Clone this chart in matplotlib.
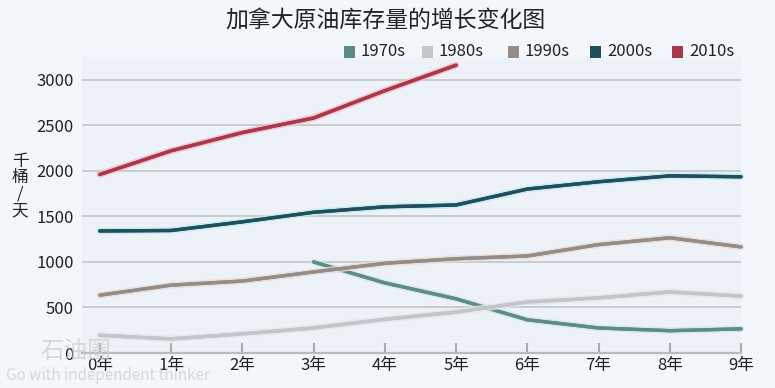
import matplotlib
matplotlib.use("Agg")
import matplotlib.pyplot as plt
from matplotlib.patches import Rectangle
from matplotlib.patheffects import withStroke, Normal

plt.rcParams['font.family'] = ['Noto Sans CJK SC', 'DejaVu Sans']

# data (thousand barrels / day)
years = list(range(10))
year_labels = [f"{i}年" for i in years]
decades = ["1970s", "1980s", "1990s", "2000s", "2010s"]
colors = ["#5f8b86", "#c3c6c9", "#958b87", "#1e4f5b", "#a8384a"]
glows = ["#cfe9e6", "#e4e6e8", "#e8dcd6", "#bfe9f2", "#f6b8c2"]

v1970 = [None, None, None, 1000, 770, 595, 365, 275, 245, 265]
v1980 = [195, 155, 210, 275, 370, 450, 560, 605, 670, 625]
v1990 = [635, 745, 790, 890, 985, 1035, 1065, 1190, 1265, 1165]
v2000 = [1340, 1345, 1440, 1545, 1605, 1625, 1800, 1880, 1945, 1935]
v2010 = [1960, 2220, 2420, 2580, 2880, 3160]
series = [v1970, v1980, v1990, v2000, v2010]

yticks = [0, 500, 1000, 1500, 2000, 2500, 3000]

fig = plt.figure(figsize=(7.75, 3.88), dpi=100)
fig.patch.set_facecolor("#f3f6fa")
ax = fig.add_axes([82 / 775, 35 / 388, 659 / 775, 296 / 388])
ax.set_facecolor("#edf2f8")

for vals, c, g in zip(series, colors, glows):
    xs = [x for x, v in zip(years, vals) if v is not None]
    ys = [v for v in vals if v is not None]
    ax.plot(xs, ys, color=c, lw=2.4, solid_capstyle="round", zorder=3, clip_on=False,
            path_effects=[withStroke(linewidth=4.8, foreground=g, alpha=0.8), Normal()])

ax.set_xlim(-0.25, 9)
ax.set_ylim(0, 3250)
ax.set_yticks(yticks)
ax.set_yticklabels([str(t) for t in yticks], fontsize=12, color="#222222")
ax.set_xticks(years)
ax.set_xticklabels(year_labels, fontsize=12, color="#222222")
ax.tick_params(axis="y", length=0, pad=6)
ax.tick_params(axis="x", direction="in", length=7, width=1.5, color="#a9abad", pad=3)
for t in yticks[1:]:
    ax.axhline(t, color="#c9cbce", lw=1.4, zorder=1)
for s in ["top", "right", "left"]:
    ax.spines[s].set_visible(False)
ax.spines["bottom"].set_color("#b9bbbe")
ax.spines["bottom"].set_linewidth(1.6)
ax.spines["bottom"].set_bounds(-0.25, 9)

# title
fig.text(385 / 775, 1 - 20 / 388, "加拿大原油库存量的增长变化图", ha="center", va="center",
         fontsize=16.5, color="#222222")

# legend
legend_x = [344, 422, 508, 590, 672]
for lx, name, c in zip(legend_x, decades, colors):
    fig.patches.append(Rectangle((lx / 775, 1 - 58 / 388), 11 / 775, 12 / 388,
                                 transform=fig.transFigure, facecolor=c, edgecolor="none"))
    fig.text((lx + 17) / 775, 1 - 52 / 388, name, ha="left", va="center",
             fontsize=12, color="#222222")

# y label, stacked vertically
fig.text(20 / 775, 1 - 186 / 388, "千\n桶\n/\n天", ha="center", va="center",
         fontsize=12, linespacing=0.95, color="#222222")

# watermark
fig.text(40 / 775, 1 - 352 / 388, "石油圈", ha="left", va="center", fontsize=17,
         color="#cdcdcd", alpha=0.75)
fig.text(6 / 775, 1 - 375 / 388, "Go with independent thinker", ha="left", va="center",
         fontsize=11, color="#cdcdcd", alpha=0.75)

fig.savefig("out.png", dpi=100, facecolor=fig.get_facecolor())
